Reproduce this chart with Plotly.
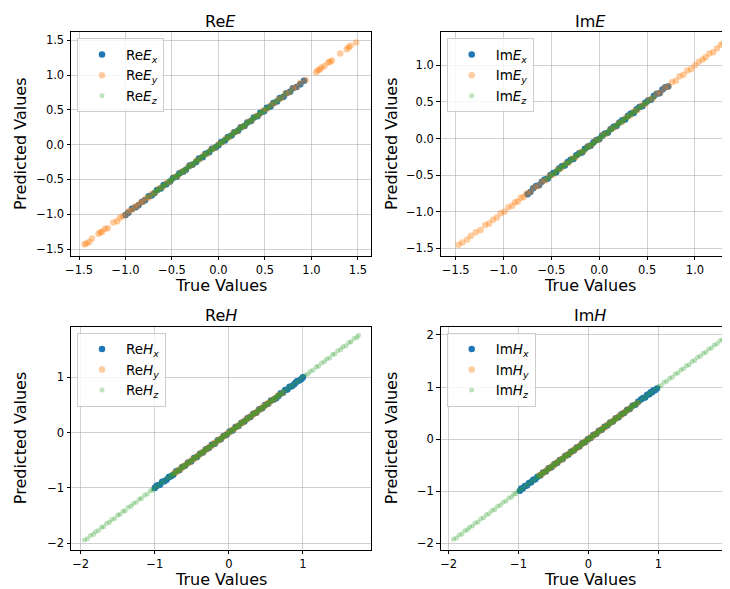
import plotly.graph_objects as go

# ---------------- data ----------------
PANEL_TITLES = ["Re<i>E</i>", "Im<i>E</i>", "Re<i>H</i>", "Im<i>H</i>"]
SERIES_NAMES = [
    ["Re<i>E</i><sub><i>x</i></sub>", "Re<i>E</i><sub><i>y</i></sub>", "Re<i>E</i><sub><i>z</i></sub>"],
    ["Im<i>E</i><sub><i>x</i></sub>", "Im<i>E</i><sub><i>y</i></sub>", "Im<i>E</i><sub><i>z</i></sub>"],
    ["Re<i>H</i><sub><i>x</i></sub>", "Re<i>H</i><sub><i>y</i></sub>", "Re<i>H</i><sub><i>z</i></sub>"],
    ["Im<i>H</i><sub><i>x</i></sub>", "Im<i>H</i><sub><i>y</i></sub>", "Im<i>H</i><sub><i>z</i></sub>"],
]

REEX_TRUE = [-1.00,-0.97,-0.93,-0.89,-0.86,-0.82,-0.79,-0.75,-0.72,-0.69,-0.66,-0.62,-0.59,-0.56,-0.52,-0.49,-0.45,-0.42,-0.38,-0.35,
             -0.31,-0.28,-0.24,-0.21,-0.17,-0.14,-0.10,-0.07,-0.03,0.00,0.03,0.07,0.10,0.14,0.17,0.21,0.24,0.28,0.31,0.35,
             0.38,0.42,0.45,0.49,0.52,0.56,0.59,0.63,0.66,0.70,0.73,0.77,0.80,0.84,0.88,0.92]
REEX_PRED = [-1.01,-0.98,-0.92,-0.90,-0.87,-0.82,-0.80,-0.74,-0.73,-0.70,-0.65,-0.63,-0.58,-0.57,-0.53,-0.48,-0.46,-0.41,-0.39,-0.36,
             -0.30,-0.29,-0.25,-0.20,-0.18,-0.13,-0.11,-0.06,-0.04,-0.01,0.04,0.06,0.11,0.13,0.18,0.20,0.25,0.27,0.32,0.34,
             0.39,0.41,0.46,0.48,0.53,0.55,0.60,0.62,0.67,0.69,0.74,0.76,0.81,0.83,0.87,0.92]
REEY_TRUE = [-1.44,-1.42,-1.39,-1.36,-1.29,-1.27,-1.25,-1.22,-1.19,-1.13,-1.09,-1.06,-1.03,-0.99,-0.96,-0.93,-0.90,-0.87,-0.84,-0.81,
             -0.78,-0.75,-0.72,-0.68,-0.64,-0.60,-0.56,-0.52,-0.48,-0.44,-0.40,-0.36,-0.32,-0.28,-0.24,-0.20,-0.16,-0.12,-0.08,-0.04,
             0.00,0.04,0.08,0.12,0.16,0.20,0.24,0.28,0.32,0.36,0.40,0.44,0.48,0.52,0.56,0.60,0.64,0.68,0.72,0.76,
             0.80,0.84,0.88,0.94,1.05,1.07,1.09,1.11,1.14,1.18,1.20,1.22,1.31,1.38,1.40,1.42,1.48]
REEY_PRED = [-1.43,-1.42,-1.40,-1.35,-1.28,-1.26,-1.25,-1.21,-1.20,-1.12,-1.10,-1.05,-1.03,-1.00,-0.95,-0.94,-0.89,-0.88,-0.83,-0.82,
             -0.77,-0.76,-0.71,-0.69,-0.63,-0.61,-0.55,-0.53,-0.47,-0.45,-0.39,-0.37,-0.31,-0.29,-0.23,-0.21,-0.15,-0.13,-0.07,-0.05,
             0.01,0.03,0.09,0.11,0.17,0.19,0.25,0.27,0.33,0.35,0.41,0.43,0.49,0.51,0.57,0.59,0.65,0.67,0.73,0.75,
             0.81,0.83,0.89,0.93,1.04,1.07,1.08,1.11,1.13,1.18,1.19,1.21,1.31,1.37,1.40,1.42,1.47]
REEZ_TRUE = [-0.76,-0.72,-0.68,-0.64,-0.60,-0.57,-0.54,-0.51,-0.48,-0.45,-0.43,-0.40,-0.38,-0.35,-0.33,-0.30,-0.28,-0.25,-0.23,-0.20,
             -0.18,-0.15,-0.13,-0.10,-0.08,-0.05,-0.03,0.00,0.02,0.05,0.07,0.10,0.12,0.15,0.17,0.20,0.22,0.25,0.27,0.30,
             0.32,0.35,0.38,0.41,0.44,0.48,0.52,0.56,0.61,0.66,0.72,0.78,
             -0.69,-0.67,-0.65,-0.63,-0.61,-0.59,-0.56,-0.53,-0.50,-0.49,-0.46,-0.44,-0.42,-0.39,-0.37,-0.34,-0.31,-0.29,-0.26,-0.24,
             -0.22,-0.19,-0.17,-0.14,-0.12,-0.09,-0.07,-0.04,-0.01,0.01,0.04,0.06,0.09,0.11,0.13,0.16,0.18,0.21,0.23,0.26,
             0.28,0.31,0.33,0.36,0.37,0.40,0.42,0.45,0.47,0.50,0.54,0.58,0.63,0.68]
REEZ_PRED = [-0.75,-0.73,-0.67,-0.65,-0.59,-0.58,-0.53,-0.52,-0.47,-0.46,-0.42,-0.41,-0.37,-0.36,-0.32,-0.31,-0.27,-0.26,-0.22,-0.21,
             -0.17,-0.16,-0.12,-0.11,-0.07,-0.06,-0.02,-0.01,0.03,0.04,0.08,0.09,0.13,0.14,0.18,0.19,0.23,0.24,0.28,0.29,
             0.33,0.34,0.39,0.40,0.45,0.47,0.53,0.55,0.62,0.65,0.73,0.77,
             -0.70,-0.66,-0.66,-0.62,-0.62,-0.58,-0.57,-0.52,-0.51,-0.48,-0.47,-0.43,-0.43,-0.38,-0.38,-0.33,-0.32,-0.28,-0.27,-0.23,
             -0.23,-0.18,-0.18,-0.13,-0.13,-0.08,-0.08,-0.03,-0.02,0.02,0.03,0.07,0.08,0.12,0.12,0.17,0.17,0.22,0.22,0.27,
             0.27,0.32,0.32,0.37,0.36,0.41,0.41,0.46,0.46,0.51,0.53,0.59,0.62,0.69]

IMEX_TRUE = [-0.75,-0.72,-0.69,-0.66,-0.63,-0.60,-0.57,-0.54,-0.51,-0.48,-0.45,-0.42,-0.39,-0.36,-0.33,-0.30,-0.27,-0.24,-0.21,-0.18,
             -0.15,-0.12,-0.09,-0.06,-0.03,0.00,0.03,0.06,0.09,0.12,0.15,0.18,0.21,0.24,0.27,0.30,0.33,0.36,0.39,0.42,
             0.45,0.48,0.51,0.54,0.57,0.60,0.63,0.66,0.69,0.72]
IMEX_PRED = [-0.76,-0.73,-0.68,-0.65,-0.64,-0.59,-0.56,-0.55,-0.50,-0.47,-0.46,-0.41,-0.38,-0.37,-0.32,-0.29,-0.28,-0.23,-0.20,-0.19,
             -0.14,-0.11,-0.10,-0.05,-0.02,-0.01,0.04,0.07,0.08,0.13,0.16,0.17,0.22,0.25,0.26,0.31,0.34,0.35,0.40,0.43,
             0.44,0.49,0.52,0.53,0.58,0.61,0.62,0.67,0.70,0.71]
IMEY_TRUE = [-1.47,-1.43,-1.38,-1.34,-1.29,-1.24,-1.19,-1.15,-1.11,-1.07,-1.03,-0.99,-0.95,-0.91,-0.88,-0.85,-0.82,-0.79,-0.76,-0.72,
             -0.68,-0.64,-0.60,-0.56,-0.52,-0.48,-0.44,-0.40,-0.36,-0.32,-0.28,-0.24,-0.20,-0.16,-0.12,-0.08,-0.04,0.00,0.04,0.08,
             0.12,0.16,0.20,0.24,0.28,0.32,0.36,0.40,0.44,0.48,0.52,0.56,0.60,0.64,0.68,0.72,0.76,0.80,0.84,0.88,
             0.92,0.96,1.00,1.04,1.08,1.11,1.15,1.19,1.23,1.27,1.30,1.33]
IMEY_PRED = [-1.45,-1.42,-1.38,-1.33,-1.28,-1.25,-1.18,-1.16,-1.11,-1.08,-1.02,-1.00,-0.94,-0.92,-0.87,-0.86,-0.81,-0.80,-0.75,-0.73,
             -0.67,-0.65,-0.59,-0.57,-0.51,-0.49,-0.43,-0.41,-0.35,-0.33,-0.27,-0.25,-0.19,-0.17,-0.11,-0.09,-0.03,-0.01,0.05,0.07,
             0.13,0.15,0.21,0.23,0.29,0.31,0.37,0.39,0.45,0.47,0.53,0.55,0.61,0.63,0.69,0.71,0.77,0.79,0.85,0.87,
             0.93,0.95,1.00,1.05,1.08,1.11,1.16,1.18,1.23,1.28,1.30,1.32]
IMEZ_TRUE = [-0.56,-0.53,-0.50,-0.47,-0.45,-0.42,-0.40,-0.37,-0.35,-0.32,-0.30,-0.27,-0.25,-0.22,-0.20,-0.17,-0.15,-0.12,-0.10,-0.07,
             -0.05,-0.02,0.00,0.03,0.05,0.08,0.10,0.13,0.15,0.18,0.20,0.23,0.25,0.28,0.30,0.33,0.35,0.38,0.41,0.44,
             0.47,0.50,0.53,0.57,
             -0.52,-0.49,-0.46,-0.44,-0.41,-0.39,-0.36,-0.34,-0.31,-0.29,-0.26,-0.24,-0.21,-0.19,-0.16,-0.14,-0.11,-0.09,-0.06,-0.04,
             -0.01,0.01,0.04,0.06,0.09,0.11,0.14,0.16,0.19,0.21,0.24,0.26,0.29,0.31,0.34,0.36,0.39,0.42,0.45,0.48,0.51]
IMEZ_PRED = [-0.55,-0.54,-0.49,-0.48,-0.44,-0.43,-0.39,-0.38,-0.34,-0.33,-0.29,-0.28,-0.24,-0.23,-0.19,-0.18,-0.14,-0.13,-0.09,-0.08,
             -0.04,-0.03,0.01,0.02,0.06,0.07,0.11,0.12,0.16,0.17,0.21,0.22,0.26,0.27,0.31,0.32,0.36,0.37,0.42,0.43,
             0.48,0.49,0.54,0.56,
             -0.53,-0.48,-0.47,-0.43,-0.42,-0.38,-0.37,-0.33,-0.32,-0.28,-0.27,-0.23,-0.22,-0.18,-0.17,-0.13,-0.12,-0.08,-0.07,-0.03,
             -0.02,0.02,0.03,0.07,0.08,0.12,0.13,0.17,0.18,0.22,0.23,0.27,0.28,0.32,0.33,0.37,0.38,0.43,0.44,0.49,0.50]

REHX_TRUE = [-1.00,-0.98,-0.96,-0.93,-0.90,-0.87,-0.84,-0.81,-0.78,-0.75,-0.71,-0.67,-0.63,-0.59,-0.55,-0.51,-0.47,-0.43,-0.39,-0.35,
             -0.31,-0.27,-0.23,-0.19,-0.15,-0.11,-0.07,-0.03,0.01,0.05,0.09,0.13,0.17,0.21,0.25,0.29,0.33,0.37,0.41,0.45,
             0.49,0.53,0.57,0.61,0.64,0.67,0.70,0.73,0.76,0.79,0.82,0.85,0.88,0.90,0.92,0.95,0.98,1.00]
REHX_PRED = [-1.00,-0.97,-0.95,-0.94,-0.89,-0.88,-0.85,-0.80,-0.79,-0.76,-0.70,-0.68,-0.62,-0.60,-0.54,-0.52,-0.46,-0.44,-0.38,-0.36,
             -0.30,-0.28,-0.22,-0.20,-0.14,-0.12,-0.06,-0.04,0.02,0.04,0.10,0.12,0.18,0.20,0.26,0.28,0.34,0.36,0.42,0.44,
             0.50,0.52,0.58,0.60,0.62,0.66,0.71,0.72,0.77,0.78,0.83,0.84,0.87,0.90,0.93,0.94,0.97,1.00]
REHY_TRUE = [-0.74,-0.71,-0.68,-0.65,-0.62,-0.59,-0.56,-0.53,-0.50,-0.47,-0.44,-0.41,-0.38,-0.35,-0.32,-0.29,-0.26,-0.23,-0.20,-0.17,
             -0.14,-0.11,-0.08,-0.05,-0.02,0.01,0.04,0.07,0.10,0.13,0.16,0.19,0.22,0.25,0.28,0.31,0.34,0.37,0.40,0.43,
             0.46,0.49,0.52,0.55,0.58,0.62,0.66,0.72]
REHY_PRED = [-0.73,-0.72,-0.67,-0.66,-0.61,-0.60,-0.55,-0.54,-0.49,-0.48,-0.43,-0.42,-0.37,-0.36,-0.31,-0.30,-0.25,-0.24,-0.19,-0.18,
             -0.13,-0.12,-0.07,-0.06,-0.01,0.00,0.05,0.06,0.11,0.12,0.17,0.18,0.23,0.24,0.29,0.30,0.35,0.36,0.41,0.42,
             0.47,0.48,0.53,0.54,0.59,0.61,0.67,0.71]
REHZ_TRUE = [-1.95,-1.91,-1.87,-1.83,-1.80,-1.76,-1.72,-1.69,-1.65,-1.61,-1.58,-1.54,-1.50,-1.47,-1.43,-1.40,-1.36,-1.32,-1.29,-1.25,
             -1.21,-1.18,-1.14,-1.10,-1.06,-1.03,
             -1.00,-0.96,-0.92,-0.88,-0.84,-0.80,-0.77,-0.74,-0.71,-0.68,-0.65,-0.62,-0.59,-0.56,-0.53,-0.50,-0.47,-0.44,-0.41,-0.38,
             -0.35,-0.32,-0.29,-0.26,-0.23,-0.20,-0.17,-0.14,-0.11,-0.08,-0.05,-0.02,0.01,0.04,0.07,0.10,0.13,0.16,0.19,0.22,
             0.25,0.28,0.31,0.34,0.37,0.40,0.43,0.46,0.49,0.52,0.55,0.58,0.61,0.64,0.67,0.70,0.74,0.78,0.82,0.86,
             0.90,0.94,0.98,
             1.03,1.07,1.10,1.14,1.18,1.21,1.25,1.29,1.32,1.36,1.40,1.43,1.47,1.51,1.54,1.58,1.62,1.65,1.69,1.73,1.75,
             -0.78,-0.75,-0.72,-0.69,-0.66,-0.63,-0.60,-0.57,-0.54,-0.51,-0.48,-0.45,-0.42,-0.39,-0.36,-0.33,-0.30,-0.27,-0.24,-0.21,
             -0.18,-0.15,-0.12,-0.09,-0.06,-0.03,0.00,0.03,0.06,0.09,0.12,0.15,0.18,0.21,0.24,0.27,0.30,0.33,0.36,0.39,
             0.42,0.45,0.48,0.51,0.54,0.57,0.60,0.63,0.66,0.69,0.72]
REHZ_PRED = [-1.94,-1.92,-1.86,-1.84,-1.79,-1.77,-1.71,-1.70,-1.64,-1.62,-1.57,-1.55,-1.49,-1.48,-1.42,-1.41,-1.35,-1.33,-1.28,-1.26,
             -1.20,-1.19,-1.13,-1.11,-1.05,-1.04,
             -0.99,-0.97,-0.91,-0.89,-0.83,-0.81,-0.76,-0.75,-0.70,-0.69,-0.64,-0.63,-0.58,-0.57,-0.52,-0.51,-0.46,-0.45,-0.40,-0.39,
             -0.34,-0.33,-0.28,-0.27,-0.22,-0.21,-0.16,-0.15,-0.10,-0.09,-0.04,-0.03,0.02,0.03,0.08,0.09,0.14,0.15,0.20,0.21,
             0.26,0.27,0.32,0.33,0.38,0.39,0.44,0.45,0.50,0.51,0.56,0.57,0.62,0.63,0.68,0.69,0.75,0.77,0.83,0.85,
             0.91,0.93,0.99,
             1.04,1.06,1.11,1.13,1.19,1.20,1.26,1.28,1.33,1.35,1.41,1.42,1.48,1.50,1.55,1.57,1.63,1.64,1.70,1.72,1.76,
             -0.79,-0.74,-0.73,-0.68,-0.67,-0.62,-0.61,-0.56,-0.55,-0.50,-0.49,-0.44,-0.43,-0.38,-0.37,-0.32,-0.31,-0.26,-0.25,-0.20,
             -0.19,-0.14,-0.13,-0.08,-0.07,-0.02,-0.01,0.04,0.05,0.10,0.11,0.16,0.17,0.22,0.23,0.28,0.29,0.34,0.35,0.40,
             0.41,0.46,0.47,0.52,0.53,0.58,0.59,0.64,0.65,0.70,0.71]

IMHX_TRUE = [-0.98,-0.96,-0.94,-0.91,-0.88,-0.85,-0.82,-0.79,-0.76,-0.73,-0.69,-0.65,-0.61,-0.57,-0.53,-0.49,-0.45,-0.41,-0.37,-0.33,
             -0.29,-0.25,-0.21,-0.17,-0.13,-0.09,-0.05,-0.01,0.03,0.07,0.11,0.15,0.19,0.23,0.27,0.31,0.35,0.39,0.43,0.47,
             0.51,0.55,0.59,0.63,0.67,0.71,0.75,0.78,0.81,0.84,0.87,0.89,0.91,0.93,0.95,0.98]
IMHX_PRED = [-0.99,-0.95,-0.95,-0.90,-0.89,-0.84,-0.83,-0.78,-0.77,-0.72,-0.70,-0.64,-0.62,-0.56,-0.54,-0.48,-0.46,-0.40,-0.38,-0.32,
             -0.30,-0.24,-0.22,-0.16,-0.14,-0.08,-0.06,0.00,0.02,0.08,0.10,0.16,0.18,0.24,0.26,0.32,0.34,0.40,0.42,0.48,
             0.50,0.56,0.58,0.64,0.66,0.72,0.76,0.79,0.80,0.85,0.86,0.90,0.90,0.94,0.94,0.97]
IMHY_TRUE = [-0.70,-0.67,-0.64,-0.61,-0.58,-0.55,-0.52,-0.49,-0.46,-0.43,-0.40,-0.37,-0.34,-0.31,-0.28,-0.25,-0.22,-0.19,-0.16,-0.13,
             -0.10,-0.07,-0.04,-0.01,0.02,0.05,0.08,0.11,0.14,0.17,0.20,0.23,0.26,0.29,0.32,0.35,0.38,0.41,0.44,0.47,
             0.50,0.53,0.56,0.60,0.64,0.70]
IMHY_PRED = [-0.69,-0.68,-0.63,-0.62,-0.57,-0.56,-0.51,-0.50,-0.45,-0.44,-0.39,-0.38,-0.33,-0.32,-0.27,-0.26,-0.21,-0.20,-0.15,-0.14,
             -0.09,-0.08,-0.03,-0.02,0.03,0.04,0.09,0.10,0.15,0.16,0.21,0.22,0.27,0.28,0.33,0.34,0.39,0.40,0.45,0.46,
             0.51,0.52,0.57,0.59,0.65,0.69]
IMHZ_TRUE = [-1.93,-1.89,-1.85,-1.81,-1.77,-1.73,-1.70,-1.66,-1.62,-1.58,-1.54,-1.50,-1.46,-1.42,-1.38,-1.34,-1.30,-1.26,-1.22,-1.18,
             -1.14,-1.10,-1.07,-1.04,-1.01,
             -0.98,-0.94,-0.90,-0.86,-0.82,-0.78,-0.74,-0.71,-0.68,-0.65,-0.62,-0.59,-0.56,-0.53,-0.50,-0.47,-0.44,-0.41,-0.38,-0.35,
             -0.32,-0.29,-0.26,-0.23,-0.20,-0.17,-0.14,-0.11,-0.08,-0.05,-0.02,0.01,0.04,0.07,0.10,0.13,0.16,0.19,0.22,0.25,
             0.28,0.31,0.34,0.37,0.40,0.43,0.46,0.49,0.52,0.55,0.58,0.61,0.64,0.67,0.70,0.74,0.78,0.82,0.86,0.90,
             0.95,
             1.00,1.04,1.08,1.12,1.16,1.20,1.24,1.28,1.32,1.36,1.40,1.44,1.48,1.52,1.56,1.60,1.64,1.68,1.72,1.76,
             1.80,1.84,1.88,1.92,1.97,
             -0.72,-0.69,-0.66,-0.63,-0.60,-0.57,-0.54,-0.51,-0.48,-0.45,-0.42,-0.39,-0.36,-0.33,-0.30,-0.27,-0.24,-0.21,-0.18,-0.15,
             -0.12,-0.09,-0.06,-0.03,0.00,0.03,0.06,0.09,0.12,0.15,0.18,0.21,0.24,0.27,0.30,0.33,0.36,0.39,0.42,0.45,
             0.48,0.51,0.54,0.57,0.60,0.63,0.66,0.69]
IMHZ_PRED = [-1.92,-1.90,-1.84,-1.82,-1.76,-1.74,-1.69,-1.67,-1.61,-1.59,-1.53,-1.51,-1.45,-1.43,-1.37,-1.35,-1.29,-1.27,-1.21,-1.19,
             -1.13,-1.11,-1.06,-1.05,-1.00,
             -0.97,-0.95,-0.89,-0.87,-0.81,-0.79,-0.73,-0.72,-0.67,-0.66,-0.61,-0.60,-0.55,-0.54,-0.49,-0.48,-0.43,-0.42,-0.37,-0.36,
             -0.31,-0.30,-0.25,-0.24,-0.19,-0.18,-0.13,-0.12,-0.07,-0.06,-0.01,0.00,0.05,0.06,0.11,0.12,0.17,0.18,0.23,0.24,
             0.29,0.30,0.35,0.36,0.41,0.42,0.47,0.48,0.53,0.54,0.59,0.60,0.65,0.66,0.71,0.73,0.79,0.81,0.87,0.89,
             0.96,
             1.01,1.03,1.09,1.11,1.17,1.19,1.25,1.27,1.33,1.35,1.41,1.43,1.49,1.51,1.57,1.59,1.65,1.67,1.73,1.75,
             1.81,1.83,1.89,1.91,1.96,
             -0.71,-0.70,-0.65,-0.64,-0.59,-0.58,-0.53,-0.52,-0.47,-0.46,-0.41,-0.40,-0.35,-0.34,-0.29,-0.28,-0.23,-0.22,-0.17,-0.16,
             -0.11,-0.10,-0.05,-0.04,0.01,0.02,0.07,0.08,0.13,0.14,0.19,0.20,0.25,0.26,0.31,0.32,0.37,0.38,0.43,0.44,
             0.49,0.50,0.55,0.56,0.61,0.62,0.67,0.68]

PANEL_DATA = [
    [(REEX_TRUE, REEX_PRED), (REEY_TRUE, REEY_PRED), (REEZ_TRUE, REEZ_PRED)],
    [(IMEX_TRUE, IMEX_PRED), (IMEY_TRUE, IMEY_PRED), (IMEZ_TRUE, IMEZ_PRED)],
    [(REHX_TRUE, REHX_PRED), (REHY_TRUE, REHY_PRED), (REHZ_TRUE, REHZ_PRED)],
    [(IMHX_TRUE, IMHX_PRED), (IMHY_TRUE, IMHY_PRED), (IMHZ_TRUE, IMHZ_PRED)],
]

# tick values per panel
X_TICKS = [[-1.5, -1.0, -0.5, 0.0, 0.5, 1.0, 1.5], [-1.5, -1.0, -0.5, 0.0, 0.5, 1.0],
           [-2, -1, 0, 1], [-2, -1, 0, 1, 2]]
Y_TICKS = [[-1.5, -1.0, -0.5, 0.0, 0.5, 1.0, 1.5], [-1.5, -1.0, -0.5, 0.0, 0.5, 1.0],
           [-2, -1, 0, 1], [-2, -1, 0, 1, 2]]

# ---------------- layout geometry ----------------
# The page body has an 8px margin, so the figure is offset by OFF px.
OFF = 8
W, H = 730 - OFF, 589 - OFF
FONT = "DejaVu Sans, sans-serif"
COLORS = ["#1f77b4", "#ff7f0e", "#2ca02c"]
OPAC = [1.0, 0.4, 0.3]
SIZES = [6.5, 6.5, 5]

# axes boxes in screen pixels: left, right, top, bottom
BOXES = [(71, 370.7, 32.3, 255.7), (440.7, 730, 32.3, 255.7),
         (71, 370.7, 326.7, 549.7), (440.7, 730, 326.7, 549.7)]
X_RANGES = [(-1.586, 1.637), (-1.657, 1.366), (-2.131, 1.915), (-2.114, 2.024)]
Y_RANGES = [(-1.596, 1.615), (-1.601, 1.451), (-2.116, 1.914), (-2.123, 2.159)]
CENTERS = [220.9, 590.0]


def px(v):
    return (v - OFF) / W


def py(v):
    return 1 - (v - OFF) / H


def fmt(v, dec):
    s = f"{abs(v):.{dec}f}"
    return ("\u2212" + s) if v < 0 else s


fig = go.Figure()

for p in range(4):
    sfx = "" if p == 0 else str(p + 1)
    legname = "legend" if p == 0 else f"legend{p + 1}"
    for s in range(3):
        xs, ys = PANEL_DATA[p][s]
        fig.add_trace(go.Scatter(
            x=xs, y=ys, mode="markers", name=SERIES_NAMES[p][s],
            marker=dict(color=COLORS[s], size=SIZES[s], opacity=OPAC[s], line=dict(width=0)),
            xaxis="x" + sfx, yaxis="y" + sfx, legend=legname,
        ))
    l, r, t, b = BOXES[p]
    dec = 1 if p < 2 else 0
    common = dict(
        showline=True, linecolor="black", linewidth=1, mirror=True,
        ticks="outside", ticklen=3.5, tickwidth=1, tickcolor="black",
        showgrid=True, gridcolor="rgba(176,176,176,0.6)", gridwidth=1, zeroline=False,
        tickfont=dict(family=FONT, size=11.5, color="black"), automargin=False,
        layer="above traces",
    )
    fig.layout["xaxis" + sfx] = dict(
        domain=[max(px(l), 0), min(px(r), 1.0)], range=list(X_RANGES[p]), anchor="y" + sfx,
        tickvals=X_TICKS[p], ticktext=[fmt(v, dec) for v in X_TICKS[p]], **common)
    fig.layout["yaxis" + sfx] = dict(
        domain=[py(b), py(t)], range=list(Y_RANGES[p]), anchor="x" + sfx,
        tickvals=Y_TICKS[p], ticktext=[fmt(v, dec) for v in Y_TICKS[p]], **common)
    fig.layout[legname] = dict(
        x=px(l + 6), y=py(t + 6), xanchor="left", yanchor="top",
        bgcolor="rgba(255,255,255,0.8)", bordercolor="#cccccc", borderwidth=1,
        font=dict(family=FONT, size=13.5, color="black"), itemwidth=38,
    )
    cx = CENTERS[p % 2]
    fig.add_annotation(x=px(cx), y=py(t - 11), xref="paper", yref="paper",
                       text=PANEL_TITLES[p], showarrow=False, xanchor="center", yanchor="middle",
                       font=dict(family=FONT, size=16, color="black"))
    fig.add_annotation(x=px(cx), y=py(b + 29.5), xref="paper", yref="paper",
                       text="True Values", showarrow=False, xanchor="center", yanchor="middle",
                       font=dict(family=FONT, size=16, color="black"))
    yx = 20 if p % 2 == 0 else 391
    fig.add_annotation(x=px(yx), y=py((t + b) / 2), xref="paper", yref="paper",
                       text="Predicted Values", showarrow=False, textangle=-90,
                       xanchor="center", yanchor="middle",
                       font=dict(family=FONT, size=16, color="black"))

fig.update_layout(
    width=W, height=H, margin=dict(l=0, r=0, t=0, b=0, autoexpand=False),
    paper_bgcolor="white", plot_bgcolor="white",
    font=dict(family=FONT, color="black"),
)

fig.write_html("out.html")
